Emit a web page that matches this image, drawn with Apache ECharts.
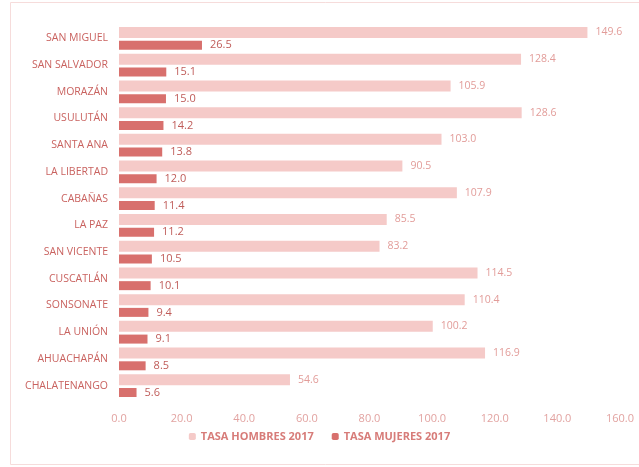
<!DOCTYPE html>
<html>
<head>
<meta charset="utf-8">
<script src="https://cdn.jsdelivr.net/npm/echarts@6/dist/echarts.min.js"></script>
<style>
  html, body { margin: 0; padding: 0; background: #fff; }
  #main { width: 639px; height: 467px; }
</style>
</head>
<body>
<div id="main"></div>
<script>
const departamentos = ['SAN MIGUEL', 'SAN SALVADOR', 'MORAZÁN', 'USULUTÁN', 'SANTA ANA', 'LA LIBERTAD', 'CABAÑAS',
  'LA PAZ', 'SAN VICENTE', 'CUSCATLÁN', 'SONSONATE', 'LA UNIÓN', 'AHUACHAPÁN', 'CHALATENANGO'];
const tasaHombres = [149.6, 128.4, 105.9, 128.6, 103.0, 90.5, 107.9, 85.5, 83.2, 114.5, 110.4, 100.2, 116.9, 54.6];
const tasaMujeres = [26.5, 15.1, 15.0, 14.2, 13.8, 12.0, 11.4, 11.2, 10.5, 10.1, 9.4, 9.1, 8.5, 5.6];

const chart = echarts.init(document.getElementById('main'), null, { renderer: 'canvas' });
const FONT = '"Open Sans", "Liberation Sans", sans-serif';

chart.setOption({
  animation: false,
  textStyle: { fontFamily: FONT },
  graphic: [{
    type: 'rect',
    shape: { x: 10.5, y: 2.5, width: 640, height: 462 },
    style: { fill: 'none', stroke: '#f6dcdb', lineWidth: 1 }
  }],
  legend: {
    bottom: 20,
    left: 'center',
    itemWidth: 7,
    itemHeight: 7,
    itemGap: 18,
    textStyle: { color: '#d77c79', fontSize: 11, fontWeight: 'bold', fontFamily: FONT },
    data: ['TASA HOMBRES 2017', 'TASA MUJERES 2017']
  },
  grid: { left: 119, right: 19, top: 25, bottom: 68 },
  xAxis: {
    type: 'value',
    min: 0,
    max: 160,
    interval: 20,
    axisLine: { show: false },
    axisTick: { show: false },
    splitLine: { show: false },
    axisLabel: {
      margin: 14,
      color: '#e2a3a1',
      fontSize: 11,
      formatter: v => v.toFixed(1)
    }
  },
  yAxis: {
    type: 'category',
    inverse: true,
    data: departamentos,
    axisLine: { show: false },
    axisTick: { show: false },
    axisLabel: { margin: 11, color: '#c9625f', fontSize: 10.5 }
  },
  series: [
    {
      name: 'TASA HOMBRES 2017',
      type: 'bar',
      data: tasaHombres,
      barWidth: 11,
      barGap: '25%',
      itemStyle: { color: '#f5cac8' },
      label: {
        show: true,
        position: 'right',
        distance: 8,
        color: '#e29c99',
        fontSize: 10.5,
        formatter: p => p.value.toFixed(1)
      }
    },
    {
      name: 'TASA MUJERES 2017',
      type: 'bar',
      data: tasaMujeres,
      barWidth: 9,
      itemStyle: { color: '#d8706d' },
      label: {
        show: true,
        position: 'right',
        distance: 8,
        color: '#bf5b58',
        fontSize: 11,
        formatter: p => p.value.toFixed(1)
      }
    }
  ]
});
window.addEventListener('resize', chart.resize);
</script>
</body>
</html>
